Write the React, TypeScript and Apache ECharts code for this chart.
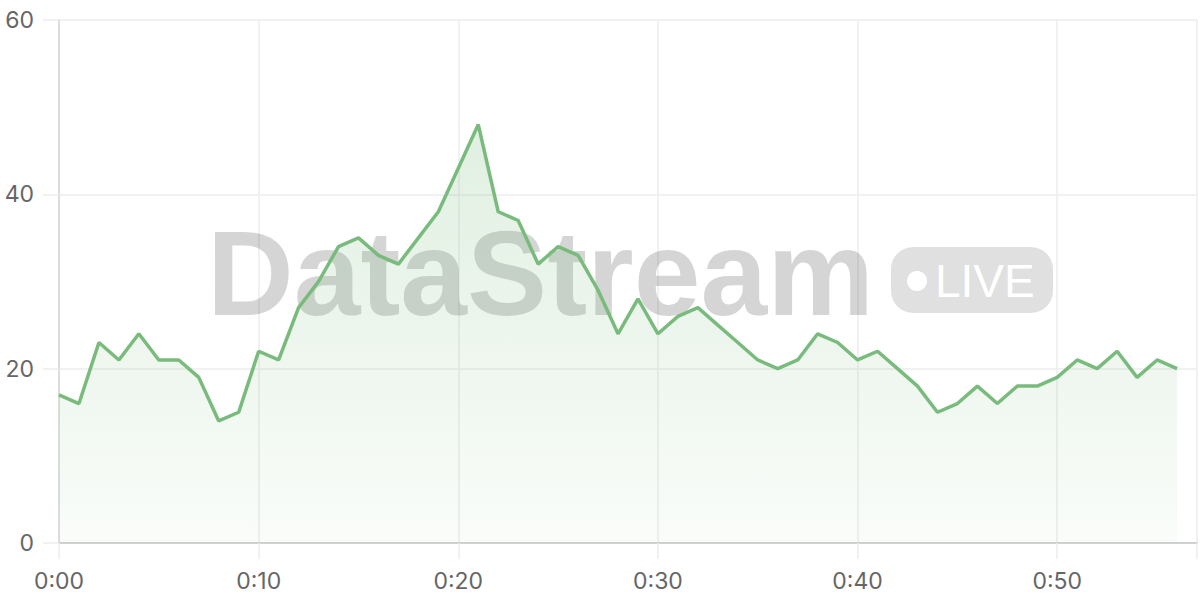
import React, { useEffect, useRef } from "react";
import * as echarts from "echarts";

const minutes = [
  0, 1, 2, 3, 4, 5, 6, 7, 8, 9, 10, 11, 12, 13, 14, 15, 16, 17, 18, 19, 20, 21, 22, 23, 24, 25, 26, 27, 28,
  29, 30, 31, 32, 33, 34, 35, 36, 37, 38, 39, 40, 41, 42, 43, 44, 45, 46, 47, 48, 49, 50, 51, 52, 53, 54,
  55, 56,
];
const values = [
  17, 16, 23, 21, 24, 21, 21, 19, 14, 15, 22, 21, 27, 30, 34, 35, 33, 32, 35, 38, 43, 48, 38, 37, 32, 34,
  33, 29, 24, 28, 24, 26, 27, 25, 23, 21, 20, 21, 24, 23, 21, 22, 20, 18, 15, 16, 18, 16, 18, 18, 19, 21,
  20, 22, 19, 21, 20,
];
const yTicks = [0, 20, 40, 60];
const watermarkTitle = "DataStream";
const watermarkBadge = "LIVE";

const fmtMinute = (v: number) => `0:${String(v).padStart(2, "0")}`;

export default function App() {
  const ref = useRef<HTMLDivElement>(null);
  useEffect(() => {
    document.body.style.margin = "0";
    if (!ref.current) return;
    const chart = echarts.init(ref.current, undefined, { renderer: "svg" });
    const green = "#79bb7c";
    chart.setOption({
      animation: false,
      grid: { left: 59, right: 0, top: 20, bottom: 57 },
      graphic: [
        {
          type: "text",
          z: 1,
          left: 207,
          top: 213,
          style: {
            text: watermarkTitle,
            font: "bold 120px 'Liberation Sans'",
            fill: "rgba(0,0,0,0.165)",
          },
        },
        {
          type: "rect",
          z: 1,
          shape: { x: 891, y: 247, width: 162, height: 66, r: 22 },
          style: { fill: "rgba(0,0,0,0.12)" },
        },
        {
          type: "circle",
          z: 1,
          shape: { cx: 917, cy: 281, r: 10 },
          style: { fill: "#ffffff" },
        },
        {
          type: "text",
          z: 1,
          x: 935,
          y: 281,
          style: {
            text: watermarkBadge,
            font: "46px 'Liberation Sans'",
            fill: "#ffffff",
            verticalAlign: "middle",
            align: "left",
          },
        },
      ],
      xAxis: {
        type: "value",
        min: 0,
        max: 57,
        interval: 10,
        axisLine: { show: true, lineStyle: { color: "#d0d0d0", width: 2 } },
        axisTick: { show: true, length: 16, lineStyle: { color: "#ececec", width: 1.5 } },
        splitLine: { show: true, lineStyle: { color: "#ececec", width: 1.5 } },
        axisLabel: {
          margin: 26,
          color: "#666",
          fontSize: 23,
          fontFamily: "Inter",
          formatter: (v: number) => (v % 10 === 0 && v <= 50 ? fmtMinute(v) : ""),
        },
      },
      yAxis: {
        type: "value",
        min: yTicks[0],
        max: yTicks[yTicks.length - 1],
        interval: 20,
        axisLine: { show: true, lineStyle: { color: "#d6d6d6", width: 1.5 } },
        axisTick: { show: true, length: 16, lineStyle: { color: "#ececec", width: 1.5 } },
        splitLine: { show: true, lineStyle: { color: "#ececec", width: 1.5 } },
        axisLabel: { margin: 25, color: "#666", fontSize: 23, fontFamily: "Inter" },
      },
      series: [
        {
          type: "line",
          z: 3,
          data: minutes.map((m, i) => [m, values[i]]),
          symbol: "none",
          lineStyle: { color: green, width: 3.5 },
          areaStyle: {
            color: new echarts.graphic.LinearGradient(0, 0, 0, 1, [
              { offset: 0, color: "rgba(119,185,122,0.32)" },
              { offset: 1, color: "rgba(119,185,122,0.06)" },
            ]),
          },
        },
      ],
    });
    return () => chart.dispose();
  }, []);
  return <div ref={ref} style={{ width: 1200, height: 600 }} />;
}
